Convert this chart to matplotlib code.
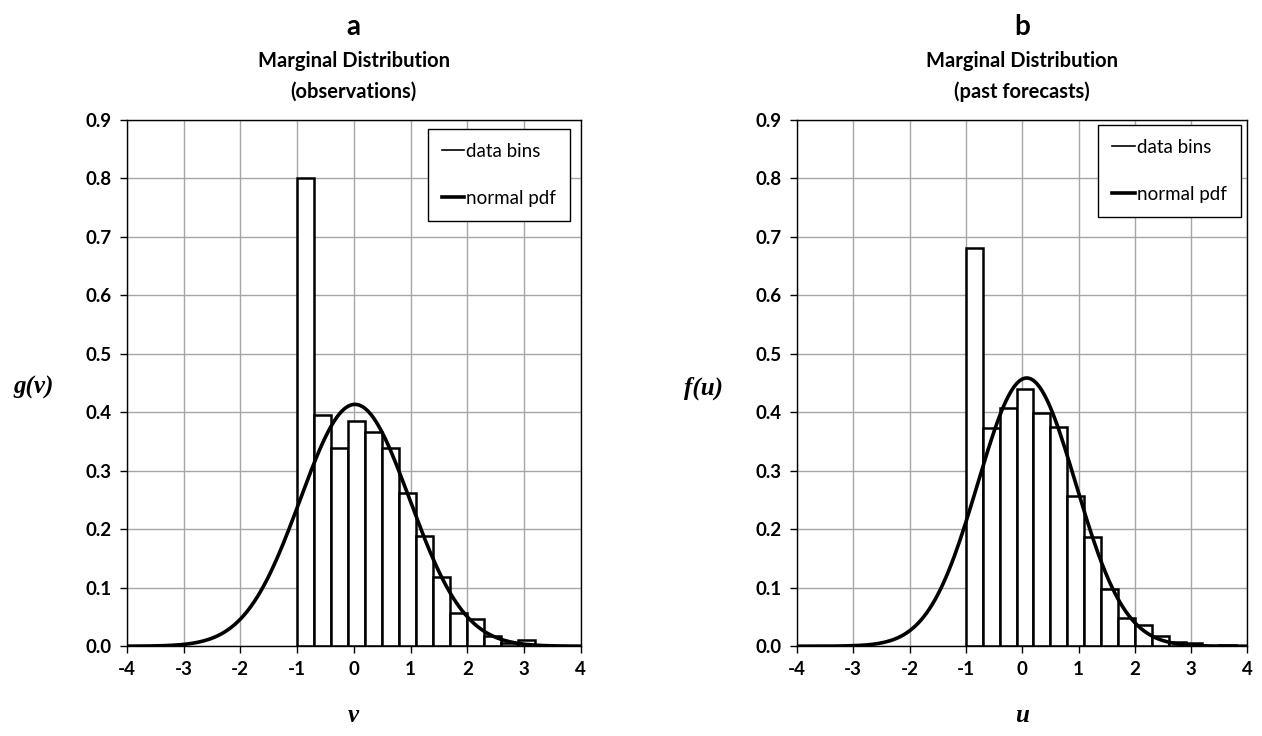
import numpy as np
import matplotlib
matplotlib.use('Agg')
import matplotlib.pyplot as plt
from matplotlib.lines import Line2D
from matplotlib.ticker import FormatStrFormatter

plt.rcParams['font.family'] = ['Lato', 'DejaVu Sans']
plt.rcParams['axes.unicode_minus'] = False

# bin left edges (width 0.3)
bin_edges_a = [-1.0, -0.7, -0.4, -0.1, 0.2, 0.5, 0.8, 1.1, 1.4, 1.7, 2.0, 2.3, 2.6, 2.9, 3.2]
obs_density = [0.80, 0.396, 0.339, 0.385, 0.366, 0.339, 0.262, 0.189, 0.118, 0.057, 0.047, 0.017, 0.006, 0.010, 0.002]

bin_edges_b = [-1.0, -0.7, -0.4, -0.1, 0.2, 0.5, 0.8, 1.1, 1.4, 1.7, 2.0, 2.3, 2.6, 2.9, 3.2, 3.5]
fc_density = [0.68, 0.373, 0.408, 0.44, 0.399, 0.375, 0.257, 0.187, 0.097, 0.048, 0.037, 0.018, 0.0065, 0.005, 0.0, 0.002]
bin_width = 0.3

# fitted normal parameters (mean, sd)
obs_fit = (0.02, 0.965)
fc_fit = (0.08, 0.87)

x_ticks = [-4, -3, -2, -1, 0, 1, 2, 3, 4]
y_ticks = [0.0, 0.1, 0.2, 0.3, 0.4, 0.5, 0.6, 0.7, 0.8, 0.9]

panels = [
    ('a', '(observations)', 'g(v)', 'v', bin_edges_a, obs_density, obs_fit,
     [0.1005, 0.122, 0.3597, 0.7154], (0.976, 0.983)),
    ('b', '(past forecasts)', 'f(u)', 'u', bin_edges_b, fc_density, fc_fit,
     [0.6315, 0.122, 0.357, 0.7154], (0.985, 0.99)),
]

fig = plt.figure(figsize=(12.62, 7.36), dpi=100)

for letter, sub, ylab, xlab, edges, dens, fit, rect, leg_pos in panels:
    ax = fig.add_axes(rect)
    ax.set_axisbelow(True)
    ax.grid(True, color='#a6a6a6', lw=1)
    ax.bar(edges, dens, width=bin_width, align='edge', color='white',
           edgecolor='black', lw=1.8, zorder=2)
    xs = np.linspace(-4, 4, 161)
    mu, sd = fit
    pdf = np.exp(-0.5 * ((xs - mu) / sd) ** 2) / (sd * np.sqrt(2 * np.pi))
    ax.plot(xs, pdf, color='black', lw=2.6, zorder=3)

    ax.set_xlim(-4, 4)
    ax.set_ylim(0, 0.9)
    ax.set_xticks(x_ticks)
    ax.set_yticks(y_ticks)
    ax.yaxis.set_major_formatter(FormatStrFormatter('%.1f'))
    ax.tick_params(direction='out', length=5, width=1, labelsize=13.5, pad=6)
    for lbl in ax.get_xticklabels() + ax.get_yticklabels():
        lbl.set_fontweight('bold')
    for sp in ax.spines.values():
        sp.set_color('black')
        sp.set_linewidth(1)

    cx = rect[0] + rect[2] / 2
    fig.text(cx, 0.963, letter, ha='center', va='center', fontsize=20, fontweight='bold')
    fig.text(cx, 0.917, 'Marginal Distribution', ha='center', va='center',
             fontsize=14.5, fontweight='bold')
    fig.text(cx, 0.876, sub, ha='center', va='center', fontsize=14.5, fontweight='bold')
    fig.text(rect[0] - 0.074, 0.473, ylab, ha='center', va='center', fontsize=18,
             fontweight='bold', fontstyle='italic', family='Liberation Serif')
    fig.text(cx, 0.028, xlab, ha='center', va='center', fontsize=18,
             fontweight='bold', fontstyle='italic', family='Liberation Serif')

    handles = [Line2D([], [], color='black', lw=1.2),
               Line2D([], [], color='black', lw=2.6)]
    leg = ax.legend(handles, ['data bins', 'normal pdf'], loc='upper right',
                    bbox_to_anchor=leg_pos, borderaxespad=0, fontsize=13.5,
                    handlelength=1.2, handletextpad=0.1, labelspacing=1.6,
                    borderpad=0.75, fancybox=False, framealpha=1, edgecolor='black')
    leg.get_frame().set_linewidth(1)

fig.savefig('out.png', dpi=100)
